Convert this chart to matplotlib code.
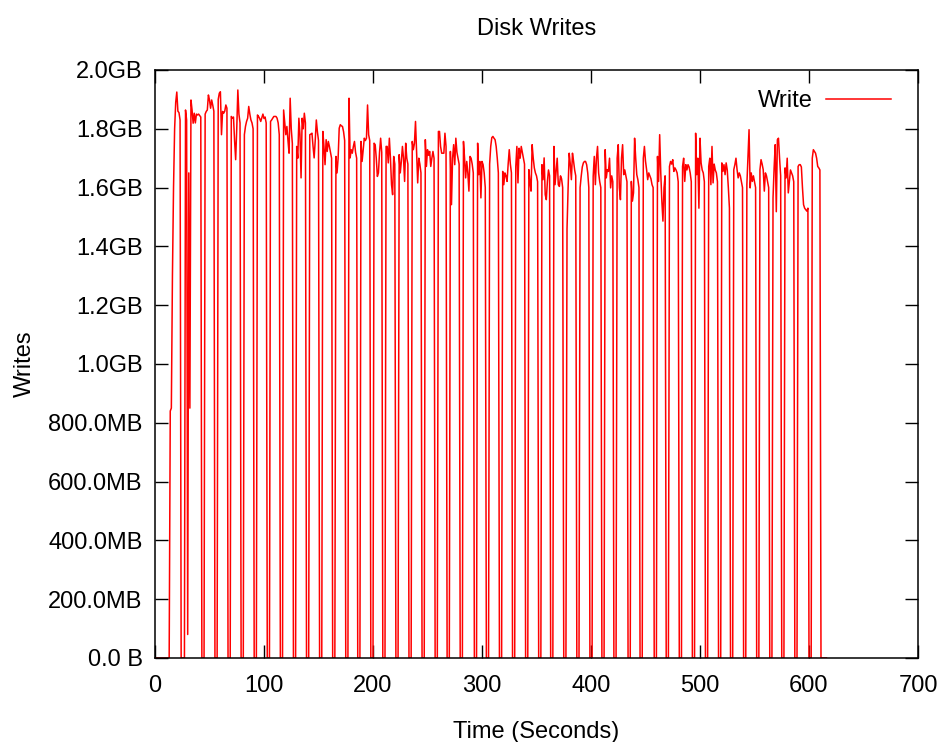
import numpy as np
import matplotlib
matplotlib.use("Agg")
import matplotlib.pyplot as plt

plt.rcParams['font.family'] = ['Liberation Sans', 'DejaVu Sans']

# ---- data (MB, 1-second samples) ----
t_end = 616
burst_starts = [14, 28, 46, 58, 70, 82, 94, 106, 118, 130, 142, 154, 166, 178, 189,
                201, 212, 224, 236, 248, 260, 271, 283, 296, 307, 319, 331, 343, 355,
                366, 378, 390, 402, 413, 424, 437, 448, 461, 472, 484, 496, 508, 520,
                531, 543, 555, 567, 578, 590, 603]
burst_values = [
    [840, 850, 1300, 1600, 1800, 1890, 1925, 1860, 1855, 1830],
    [1864, 1830, 80, 1650, 850, 1898, 1864, 1819, 1853, 1820, 1850, 1847, 1850, 1845, 1840],
    [1850, 1859, 1864, 1915, 1898, 1870, 1898, 1880, 1860],
    [1900, 1921, 1926, 1780, 1859, 1853, 1860, 1881, 1870],
    [1842, 1836, 1840, 1760, 1695, 1800, 1932, 1850, 1820],
    [1780, 1808, 1825, 1836, 1876, 1850, 1830, 1820, 1800],
    [1847, 1842, 1835, 1825, 1838, 1850, 1835, 1840, 1820],
    [1825, 1830, 1836, 1842, 1842, 1842, 1836, 1820, 1780],
    [1864, 1820, 1780, 1808, 1760, 1717, 1904, 1800, 1750],
    [1740, 1700, 1836, 1780, 1633, 1836, 1800, 1853, 1820],
    [1780, 1782, 1785, 1740, 1701, 1760, 1830, 1790, 1760],
    [1791, 1740, 1678, 1763, 1723, 1757, 1740, 1720, 1700],
    [1706, 1650, 1700, 1802, 1814, 1810, 1808, 1790, 1760],
    [1904, 1701, 1729, 1717, 1740, 1757, 1720, 1700],
    [1757, 1689, 1729, 1768, 1760, 1768, 1881, 1780, 1760],
    [1751, 1746, 1700, 1638, 1650, 1720, 1768, 1720],
    [1740, 1740, 1684, 1768, 1700, 1610, 1576, 1706, 1680],
    [1712, 1650, 1689, 1740, 1700, 1621, 1751, 1700, 1680],
    [1757, 1729, 1750, 1825, 1717, 1616, 1700, 1680, 1650],
    [1763, 1672, 1729, 1710, 1723, 1672, 1700, 1723, 1700],
    [1791, 1791, 1740, 1717, 1717, 1717, 1785, 1740],
    [1723, 1542, 1700, 1746, 1678, 1768, 1720, 1700, 1680],
    [1757, 1700, 1633, 1689, 1650, 1588, 1706, 1700, 1680, 1650],
    [1751, 1644, 1689, 1565, 1689, 1678, 1650, 1600],
    [1680, 1740, 1770, 1774, 1768, 1763, 1740, 1700, 1650],
    [1655, 1610, 1650, 1640, 1621, 1680, 1729, 1680, 1650],
    [1672, 1740, 1616, 1734, 1700, 1740, 1720, 1700, 1680],
    [1661, 1620, 1588, 1746, 1700, 1667, 1650, 1640, 1620],
    [1678, 1627, 1701, 1576, 1559, 1621, 1660, 1640],
    [1740, 1610, 1655, 1700, 1610, 1604, 1640, 1630, 1600],
    [1460, 1599, 1717, 1680, 1627, 1717, 1690, 1660, 1640],
    [1600, 1638, 1670, 1684, 1689, 1689, 1678, 1650, 1600],
    [1638, 1706, 1610, 1700, 1740, 1650, 1620, 1600],
    [1729, 1633, 1661, 1655, 1700, 1599, 1640, 1620],
    [1700, 1746, 1600, 1559, 1700, 1746, 1644, 1660, 1640, 1620],
    [1621, 1554, 1582, 1768, 1700, 1644, 1627, 1600],
    [1700, 1740, 1690, 1661, 1627, 1650, 1640, 1630, 1610, 1600],
    [1706, 1621, 1780, 1650, 1554, 1486, 1600, 1640],
    [1672, 1689, 1680, 1695, 1655, 1667, 1660, 1650, 1620],
    [1672, 1700, 1621, 1678, 1660, 1678, 1670, 1650, 1620],
    [1785, 1644, 1700, 1530, 1768, 1684, 1660, 1650, 1620],
    [1672, 1700, 1610, 1740, 1616, 1680, 1660, 1650, 1620],
    [1684, 1655, 1678, 1644, 1684, 1660, 1600, 1530],
    [1661, 1678, 1700, 1661, 1633, 1650, 1640, 1620, 1600],
    [1610, 1700, 1797, 1599, 1650, 1621, 1640, 1620, 1600],
    [1661, 1695, 1680, 1661, 1588, 1650, 1640, 1620, 1600],
    [1565, 1667, 1746, 1518, 1763, 1768, 1700, 1640],
    [1667, 1633, 1700, 1582, 1621, 1660, 1650, 1640, 1620],
    [1672, 1678, 1678, 1670, 1600, 1542, 1530, 1525, 1520, 1530],
    [1700, 1729, 1723, 1717, 1700, 1672, 1667, 1660],
]
y_ticks = [0, 200, 400, 600, 800, 1000, 1200, 1400, 1600, 1800, 2000]
y_tick_labels = ["0.0 B", "200.0MB", "400.0MB", "600.0MB", "800.0MB", "1.0GB",
                 "1.2GB", "1.4GB", "1.6GB", "1.8GB", "2.0GB"]
x_ticks = [0, 100, 200, 300, 400, 500, 600, 700]

times = np.arange(t_end + 1)
writes = np.zeros(t_end + 1)
for s, vals in zip(burst_starts, burst_values):
    writes[s:s + len(vals)] = vals

# ---- figure ----
FS = 17
fig = plt.figure(figsize=(9.4, 7.42), dpi=100)
ax = fig.add_axes([155/940, 1 - 658/742, (918 - 155)/940, (658 - 70)/742])

ax.plot(times, writes, color='#ff0000', lw=1.1, label='Write')

ax.set_xlim(0, 700)
ax.set_ylim(0, 2000)
ax.set_xticks(x_ticks)
ax.set_yticks(y_ticks)
ax.set_yticklabels(y_tick_labels)
ax.tick_params(direction='in', length=9.5, width=1.0, top=True, right=True,
               labelsize=FS, colors='black')
ax.tick_params(axis='y', pad=9)
ax.tick_params(axis='x', pad=12)
for sp in ax.spines.values():
    sp.set_linewidth(1.1)

ax.set_title("Disk Writes", fontsize=FS, pad=25.5)
ax.set_xlabel("Time (Seconds)", fontsize=FS, labelpad=17.5)
ax.set_ylabel("Writes", fontsize=FS, labelpad=8.5)

leg = ax.legend(loc='upper right', frameon=False, markerfirst=False,
                handlelength=2.75, fontsize=FS, bbox_to_anchor=(0.9775, 0.982),
                borderaxespad=0.0, handletextpad=0.6)

fig.savefig("out.png", dpi=100)
